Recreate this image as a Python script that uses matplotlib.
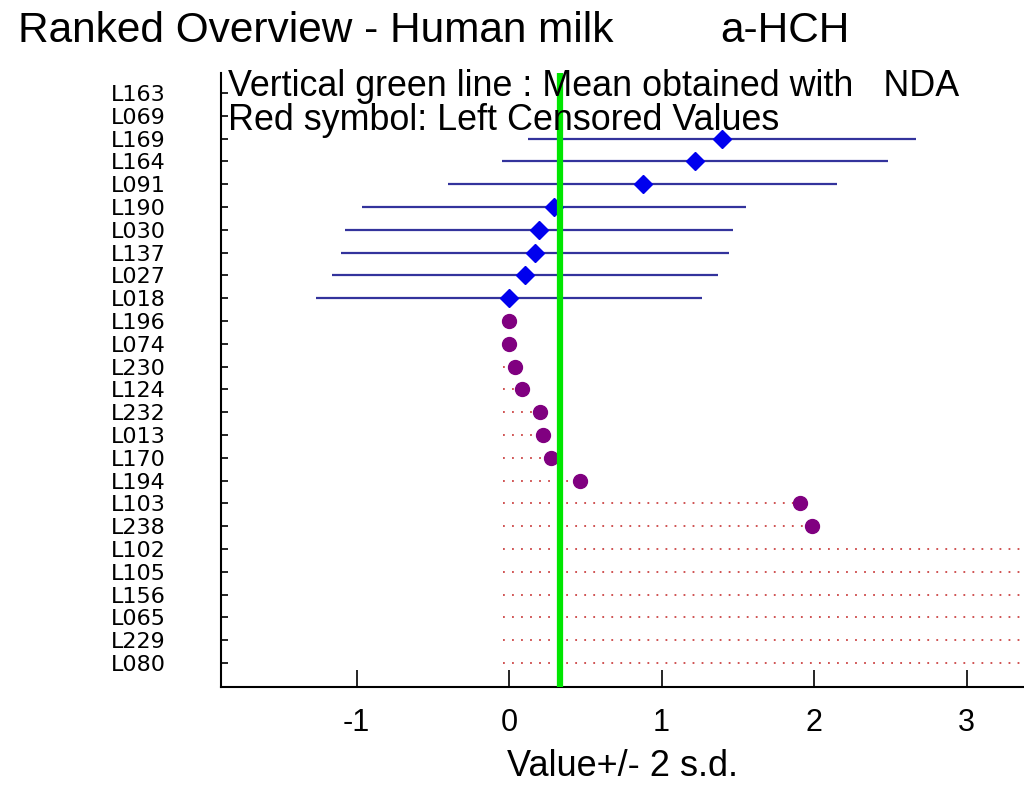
import numpy as np
import matplotlib
matplotlib.use("Agg")
from matplotlib import pyplot as plt

# lab codes, ranked top to bottom
labs = ["L163", "L069", "L169", "L164", "L091", "L190", "L030", "L137", "L027", "L018",
        "L196", "L074", "L230", "L124", "L232", "L013", "L170", "L194", "L103", "L238",
        "L102", "L105", "L156", "L065", "L229", "L080"]
# reported values (censored rows: the "<" limit)
values = [np.nan, np.nan, 1.395, 1.22, 0.877, 0.295, 0.197, 0.17, 0.105, 0.0,
          0.0, 0.0, 0.04, 0.088, 0.206, 0.22, 0.277, 0.467, 1.91, 1.99,
          4.0, 4.0, 5.0, 5.0, 10.0, 10.0]
# 2 s.d. half width for the quantified results
two_sd = [np.nan, np.nan, 1.272, 1.268, 1.275, 1.262, 1.27, 1.271, 1.265, 1.265] + [np.nan] * 16
censored = [False] * 10 + [True] * 16
nda_mean = 0.333

plt.rcParams['font.family'] = ['Liberation Sans', 'DejaVu Sans']

fig = plt.figure(figsize=(10.24, 7.85), dpi=100)
ax = fig.add_axes([221 / 1024, (785 - 687) / 785, 1 - 221 / 1024, (687 - 73) / 785])

ypos = np.arange(len(labs))
vals = np.array(values)
sd = np.array(two_sd)
cens = np.array(censored)

# quantified results with +/- 2 s.d.
q = ~cens & ~np.isnan(vals)
ax.hlines(ypos[q], vals[q] - sd[q], vals[q] + sd[q], color="#33339c", lw=1.6, zorder=2)
ax.plot(vals[q], ypos[q], "D", color="#0000ee", ms=9, zorder=4)

# left censored results
c = cens & (vals > 0)
ax.hlines(ypos[c], -0.04, vals[c], color="#cc4444", lw=1.3, linestyles=(0, (1, 4)), zorder=1)
ax.plot(vals[cens], ypos[cens], "o", color="#800080", ms=10, zorder=4)

ax.axvline(nda_mean, color="#00e600", lw=4.5, zorder=6)

ax.set_xlim(-1.889, 3.377)
ax.set_ylim(26.05, -0.88)
ax.set_yticks(ypos)
ax.set_yticklabels(labs, family="DejaVu Sans", fontsize=16)
ax.set_xticks([-1, 0, 1, 2, 3])
ax.set_xticklabels(["-1", "0", "1", "2", "3"], fontsize=22)
ax.tick_params(axis="y", direction="in", length=5, width=1.2, pad=40)
ax.tick_params(axis="x", direction="in", length=12, width=1.2, pad=15)
ax.set_xlabel("Value+/- 2 s.d.", fontsize=26, labelpad=8)
for s in ["top", "right"]:
    ax.spines[s].set_visible(False)
for s in ["left", "bottom"]:
    ax.spines[s].set_linewidth(1.5)

fig.text(18 / 1024, 1 - 31 / 785, "Ranked Overview - Human milk", fontsize=30.5, va="center")
fig.text(720 / 1024, 1 - 31 / 785, "a-HCH", fontsize=30.5, va="center")
fig.text(228 / 1024, 1 - 87 / 785, "Vertical green line : Mean obtained with   NDA",
         fontsize=25.8, va="center", zorder=1)
fig.text(228 / 1024, 1 - 121 / 785, "Red symbol: Left Censored Values",
         fontsize=25.8, va="center", zorder=1)

fig.savefig("out.png", dpi=100)
